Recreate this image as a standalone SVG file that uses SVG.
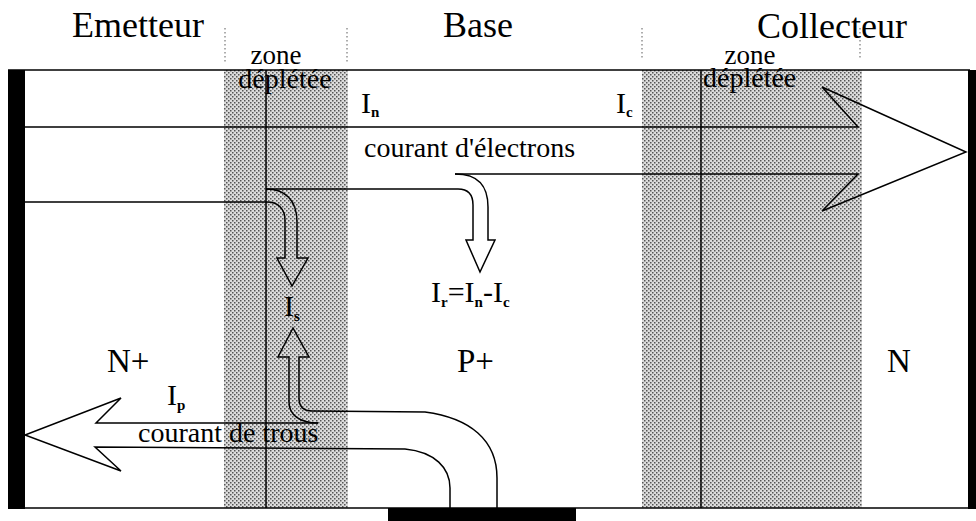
<svg xmlns="http://www.w3.org/2000/svg" width="976" height="521" viewBox="0 0 976 521">
<defs>
<pattern id="dots" width="4" height="4" patternUnits="userSpaceOnUse">
<rect width="4" height="4" fill="#dcdcdc"/>
<rect x="0" y="0" width="1.5" height="1.5" fill="#555"/>
<rect x="2" y="2" width="1.5" height="1.5" fill="#555"/>
</pattern>
<style>
.t{font-family:"Liberation Serif","Times New Roman",serif;fill:#000}
.big{font-size:36px}
.mid{font-size:33px}
.sm{font-size:28px}
.zn{font-size:27px}
.cur{font-size:30px}
.sub{font-size:15px;font-weight:bold}
.ln{fill:none;stroke:#000;stroke-width:1.5}
.guide{fill:none;stroke:#777;stroke-width:1.2;stroke-dasharray:1.5 2.5}
.bar{fill:#000}
</style>
</defs>
<rect width="976" height="521" fill="#fff"/>

<g id="zones">
<rect id="zone-emitter" x="224" y="70" width="124" height="438" fill="url(#dots)"/>
<rect id="zone-collector" x="642" y="70" width="220" height="438" fill="url(#dots)"/>
<line class="guide" x1="225" y1="28" x2="225" y2="64"/>
<line class="guide" x1="347" y1="28" x2="347" y2="64"/>
<line class="guide" x1="642" y1="28" x2="642" y2="60"/>
<line class="guide" x1="860" y1="28" x2="860" y2="60"/>
</g>

<g id="frame">
<line class="ln" x1="8" y1="70" x2="970" y2="70"/>
<line class="ln" x1="8" y1="508" x2="976" y2="508"/>
<line class="ln" x1="266" y1="70" x2="266" y2="508"/>
<line class="ln" x1="701" y1="70" x2="701" y2="508"/>
<rect id="contact-emitter" class="bar" x="8" y="70" width="17" height="439"/>
<rect id="contact-collector" class="bar" x="968" y="70" width="8" height="439"/>
<rect id="contact-base" class="bar" x="388" y="508" width="188" height="13"/>
</g>

<g id="connectors">
<path id="electron-arrow" class="ln" d="M25,127 L858,127 L822,87 L966,152 L822,211 L858,174 L455,174"/>
<path id="ir-arrow" class="ln" d="M455,174 C479,174 488,186 488,207 L488,240 L495,240 L480,272 L466,240 L473,240 L473,205 C473,195 468,189 458,189 L266,189"/>
<path id="is-down-arrow" class="ln" d="M266,189 C285,189 297,200 297,222 L297,258 L308,258 L292,286 L277,258 L285,258 L285,220 C285,210 279,202 267,202 L25,202"/>
<path id="hole-arrow" class="ln" d="M318,423 L96,423 L121,398 L25,435 L121,471 L95,447 L405,449 C435,452 450,468 450,488 L450,508"/>
<path id="is-up-arrow" class="ln" d="M497,508 L497,478 C497,440 470,418 425,412 L312,411 C303,411 299,406 299,398 L299,357 L309,357 L293,328 L278,357 L289,357 L289,402 C289,415 300,423 318,423"/>
</g>

<g id="labels">
<text id="lbl-emetteur" class="t big" x="72" y="37">Emetteur</text>
<text id="lbl-base" class="t big" x="443" y="37">Base</text>
<text id="lbl-collecteur" class="t big" x="757" y="38">Collecteur</text>
<text class="t zn" x="276" y="64" text-anchor="middle">zone</text>
<text class="t sm" x="285" y="88" text-anchor="middle">déplétée</text>
<text class="t zn" x="750" y="64" text-anchor="middle">zone</text>
<text class="t sm" x="703" y="87">déplétée</text>
<text id="lbl-In" class="t cur" x="361" y="113">I<tspan class="sub" dy="4">n</tspan></text>
<text id="lbl-Ic" class="t cur" x="616" y="113">I<tspan class="sub" dy="4">c</tspan></text>
<text id="lbl-electrons" class="t sm" x="364" y="157">courant d'électrons</text>
<text id="lbl-Is" class="t cur" x="284" y="316">I<tspan class="sub" dy="5">s</tspan></text>
<text id="lbl-Ir" class="t cur" x="431" y="302">I<tspan class="sub" dy="5">r</tspan><tspan dy="-5">=I</tspan><tspan class="sub" dy="5">n</tspan><tspan dy="-5">-I</tspan><tspan class="sub" dy="5">c</tspan></text>
<text id="lbl-Nplus" class="t mid" x="107" y="372">N+</text>
<text id="lbl-Pplus" class="t mid" x="457" y="372">P+</text>
<text id="lbl-N" class="t mid" x="887" y="372">N</text>
<text id="lbl-Ip" class="t cur" x="167" y="405">I<tspan class="sub" dy="5">p</tspan></text>
<text id="lbl-trous" class="t sm" x="138" y="442">courant de trous</text>
</g>
</svg>
